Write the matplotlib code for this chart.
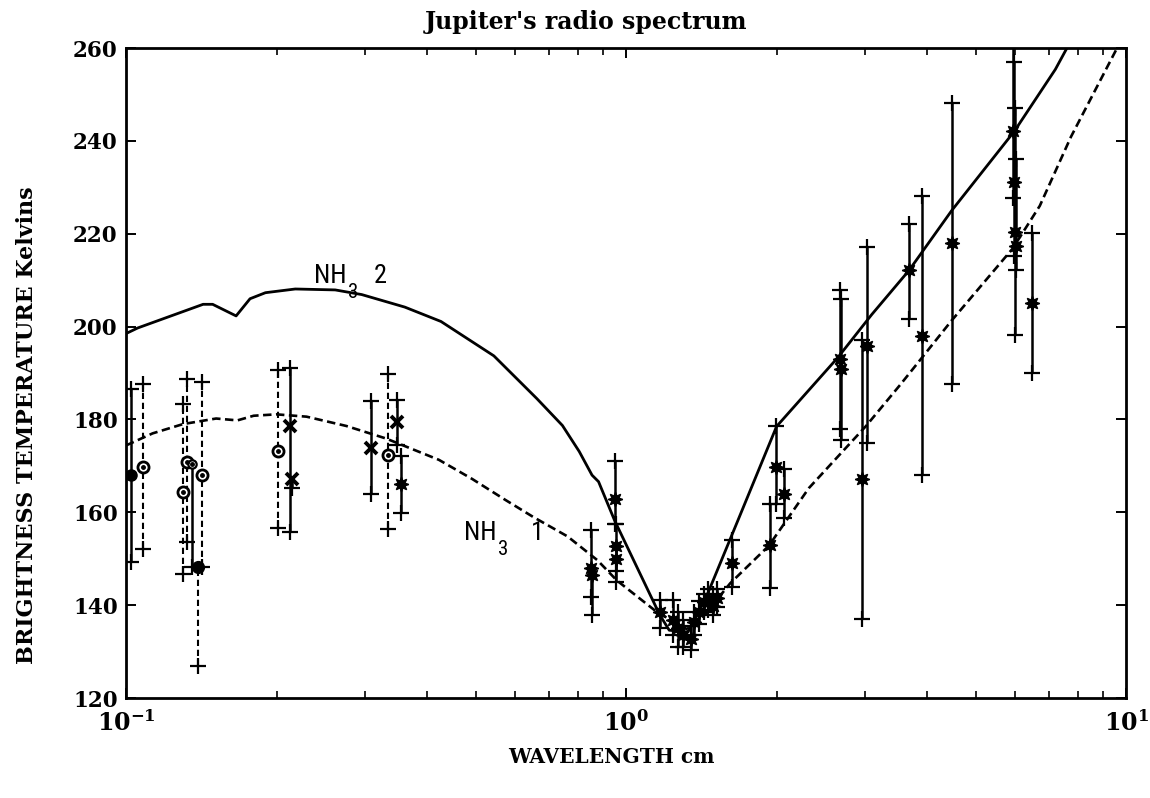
import numpy as np
import matplotlib
matplotlib.use("Agg")
import matplotlib.pyplot as plt
from matplotlib import font_manager
from matplotlib.ticker import LogLocator, NullLocator, NullFormatter, FixedLocator, FixedFormatter

# ---------------- data ----------------
# model curves (wavelength cm, brightness temperature K)
nh3_2_wl = [0.1, 0.1055, 0.1426, 0.149, 0.166, 0.177, 0.19, 0.218, 0.262, 0.296,
            0.361, 0.4265, 0.544, 0.663, 0.746, 0.806, 0.855, 0.881, 0.949, 1.168,
            1.22, 1.33, 1.45, 1.67, 2.00, 2.65, 3.10, 3.68, 4.48, 5.98, 7.22, 7.75]
nh3_2_tb = [198.5, 199.7, 204.8, 204.8, 202.3, 206.0, 207.3, 208.1, 207.9, 206.9,
            204.2, 201.1, 193.7, 184.5, 178.7, 173.1, 168.0, 166.6, 158.2, 137.9,
            134.6, 134.2, 142.0, 158.0, 178.5, 193.3, 202.6, 212.1, 225.0, 242.1, 255.4, 261.5]

nh3_1_wl = [0.1, 0.113, 0.130, 0.1514, 0.167, 0.18, 0.1998, 0.2296, 0.2757, 0.331,
            0.4224, 0.492, 0.573, 0.652, 0.764, 0.876, 0.959, 1.15, 1.32, 1.38,
            1.615, 1.93, 2.32, 3.02, 3.53, 3.82, 4.47, 5.93, 6.72, 7.76, 9.53, 10.0]
nh3_1_tb = [174.4, 177.0, 179.0, 180.2, 179.8, 180.8, 181.1, 180.6, 178.6, 175.9,
            171.3, 167.2, 162.7, 159.0, 154.8, 149.7, 145.3, 138.6, 134.9, 135.6,
            144.7, 152.8, 165.2, 178.6, 187.4, 192.0, 201.2, 216.8, 226.0, 240.9, 259.4, 264.0]

# measurements: wavelength, value, lower, upper
# filled circles, solid bars
fc_wl = [0.1025]
fc_tb = [168.1]
fc_lo = [149.4]
fc_hi = [186.5]

# filled circles, dashed bars
fcd_wl = [0.139]
fcd_tb = [148.2]
fcd_lo = [126.8]
fcd_hi = [148.2]

# open circles, dashed bars
oc_wl = [0.108, 0.130, 0.1326, 0.142, 0.201, 0.334]
oc_tb = [169.8, 164.4, 170.9, 168.0, 173.1, 172.3]
oc_lo = [152.1, 146.7, 153.7, 148.2, 156.6, 156.4]
oc_hi = [187.6, 183.3, 188.7, 188.1, 190.6, 189.7]

# open circles, solid bars
ocs_wl = [0.1355]
ocs_tb = [170.3]
ocs_lo = [148.2]
ocs_hi = [170.3]

# crosses, solid bars
xm_wl = [0.213, 0.215, 0.309, 0.349]
xm_tb = [178.5, 167.1, 173.8, 179.4]
xm_lo = [155.7, 165.2, 164.0, 174.6]
xm_hi = [191.1, 167.1, 184.0, 184.1]

# asterisks, solid bars
st_wl = [0.355, 0.850, 0.853, 0.950, 0.953, 0.956,
         1.17, 1.24, 1.27, 1.30, 1.35, 1.37, 1.40, 1.43, 1.46, 1.49, 1.52,
         1.63, 1.936, 1.993, 2.068, 2.68, 2.69, 2.97, 3.03, 3.68, 3.91, 4.48,
         5.95, 5.97, 5.99, 6.01, 6.47]
st_tb = [166.1, 148.0, 146.5, 162.9, 152.8, 149.9,
         138.6, 136.8, 135.0, 133.5, 132.7, 136.3, 138.5, 140.6, 141.3, 139.9, 141.5,
         149.0, 152.9, 169.7, 164.0, 193.1, 190.9, 167.1, 195.8, 212.1, 197.9, 218.1,
         242.1, 231.2, 220.4, 217.3, 205.0]
st_lo = [159.8, 141.8, 137.9, 157.5, 147.4, 144.9,
         135.0, 133.5, 131.0, 131.0, 130.3, 133.5, 136.0, 138.5, 139.0, 137.8, 139.5,
         144.0, 143.8, 161.8, 158.8, 177.9, 175.5, 137.0, 174.9, 201.7, 168.0, 187.7,
         227.7, 215.2, 198.1, 212.1, 189.9]
st_hi = [172.2, 156.2, 146.5, 171.0, 157.5, 149.9,
         141.1, 141.1, 138.5, 136.8, 135.5, 138.5, 141.0, 142.4, 143.5, 142.4, 143.5,
         154.1, 161.7, 178.5, 169.3, 207.9, 205.9, 197.2, 217.2, 222.2, 228.1, 248.1,
         265.0, 257.0, 247.1, 236.2, 220.2]

x_ticks = [0.1, 1, 10]
x_tick_labels = [r"$10^{-1}$", r"$10^{0}$", r"$10^{1}$"]
y_ticks = [120, 140, 160, 180, 200, 220, 240, 260]
y_tick_labels = ["120", "140", "160", "180", "200", "220", "240", "260"]

title_text = "Jupiter's radio spectrum"
x_label = "WAVELENGTH cm"
y_label = "BRIGHTNESS TEMPERATURE Kelvins"

# ---------------- style ----------------
plt.rcParams["mathtext.fontset"] = "custom"
plt.rcParams["mathtext.rm"] = "DejaVu Serif:bold"
plt.rcParams["mathtext.it"] = "DejaVu Serif:bold"
plt.rcParams["mathtext.bf"] = "DejaVu Serif:bold"
plt.rcParams["mathtext.default"] = "rm"


def pick_font(names):
    for n in names:
        try:
            font_manager.findfont(font_manager.FontProperties(family=n),
                                  fallback_to_default=False)
            return n
        except Exception:
            pass
    return "DejaVu Sans"


lab_font = pick_font(["Liberation Sans Narrow", "Roboto Condensed", "Liberation Sans"])
serif = "DejaVu Serif"

fig = plt.figure(figsize=(11.5, 7.98), dpi=100)
ax = fig.add_axes([0.1096, 0.1253, 0.8696, 0.8145])
ax.set_xscale("log")
ax.set_xlim(0.1, 10)
ax.set_ylim(120, 260)

# curves
ax.plot(nh3_2_wl, nh3_2_tb, color="black", lw=2.0, solid_joinstyle="round")
ax.plot(nh3_1_wl, nh3_1_tb, color="black", lw=1.9, linestyle=(0, (3.2, 1.7)))

CAP = dict(marker="+", markersize=12, mew=1.6, color="black", linestyle="none")


def draw_group(wl, tb, lo, hi, ls, marker, **mk):
    wl = np.asarray(wl, float)
    tb = np.asarray(tb, float)
    lo = np.asarray(lo, float)
    hi = np.asarray(hi, float)
    if ls == "solid":
        ax.vlines(wl, lo, hi, colors="black", linewidth=1.8)
    else:
        ax.vlines(wl, lo, hi, colors="black", linewidth=1.5,
                  linestyles=[(0, (3.0, 1.8))])
    m = lo < tb
    ax.plot(wl[m], lo[m], **CAP)
    m = hi > tb
    ax.plot(wl[m], hi[m], **CAP)
    ax.plot(wl, tb, linestyle="none", marker=marker, zorder=4, **mk)


draw_group(fc_wl, fc_tb, fc_lo, fc_hi, "solid", "o",
           markersize=8, mfc="black", mec="black")
draw_group(fcd_wl, fcd_tb, fcd_lo, fcd_hi, "dashed", "o",
           markersize=8.5, mfc="black", mec="black")
draw_group(oc_wl, oc_tb, oc_lo, oc_hi, "dashed", "o",
           markersize=8, mfc="white", mec="black", mew=2.0)
draw_group(ocs_wl, ocs_tb, ocs_lo, ocs_hi, "solid", "o",
           markersize=6, mfc="white", mec="black", mew=1.6)
ax.plot(oc_wl + ocs_wl, oc_tb + ocs_tb, linestyle="none", marker="o",
        markersize=2.5, color="black", zorder=5)
draw_group(xm_wl, xm_tb, xm_lo, xm_hi, "solid", "x",
           markersize=8, mec="black", mew=2.8)
draw_group(st_wl, st_tb, st_lo, st_hi, "solid", (8, 1, 0),
           markersize=10.5, mfc="black", mec="black", mew=1.0)

# NH3 labels
PX = 0.72  # points per pixel at 100 dpi


def nh3_label(x, y, num, num_dx):
    ax.annotate("NH", xy=(x, y), xycoords="data", ha="left", va="baseline",
                fontsize=19, family=lab_font, zorder=6)
    ax.annotate("3", xy=(x, y), xycoords="data", xytext=(34 * PX, -15 * PX),
                textcoords="offset points", ha="left", va="baseline",
                fontsize=15, family=lab_font, zorder=6)
    ax.annotate(num, xy=(x, y), xycoords="data", xytext=(num_dx * PX, 0),
                textcoords="offset points", ha="left", va="baseline",
                fontsize=19, family=lab_font, zorder=6)


nh3_label(0.2373, 209.3, "2", 60)
nh3_label(0.475, 154.0, "1", 67)

# axes styling
for s in ax.spines.values():
    s.set_linewidth(2.0)

ax.xaxis.set_major_locator(FixedLocator(x_ticks))
ax.xaxis.set_major_formatter(FixedFormatter(x_tick_labels))
ax.xaxis.set_minor_locator(LogLocator(base=10, subs=np.arange(2, 10)))
ax.xaxis.set_minor_formatter(NullFormatter())
ax.yaxis.set_major_locator(FixedLocator(y_ticks))
ax.yaxis.set_major_formatter(FixedFormatter(y_tick_labels))
ax.yaxis.set_minor_locator(NullLocator())

ax.tick_params(which="both", direction="in", top=True, right=True, color="black")
ax.tick_params(which="major", length=7, width=1.4)
ax.tick_params(which="minor", length=5, width=1.2)
ax.tick_params(axis="x", which="major", pad=9)
ax.tick_params(axis="y", which="major", pad=6)
for lab in ax.get_yticklabels():
    lab.set_fontfamily(serif)
    lab.set_fontweight("bold")
    lab.set_fontsize(15.5)
for lab in ax.get_xticklabels():
    lab.set_fontsize(17)

ax.set_title(title_text, fontsize=17, fontweight="bold", family=serif, pad=14,
             x=0.46)
ax.set_xlabel(x_label, fontsize=14.5, fontweight="bold", family=serif)
ax.xaxis.set_label_coords(0.485, -0.075)
ax.set_ylabel(y_label, fontsize=16, fontweight="bold", family=serif)
ax.yaxis.set_label_coords(-0.088, 0.42)

fig.savefig("out.png", dpi=100, facecolor="white")
